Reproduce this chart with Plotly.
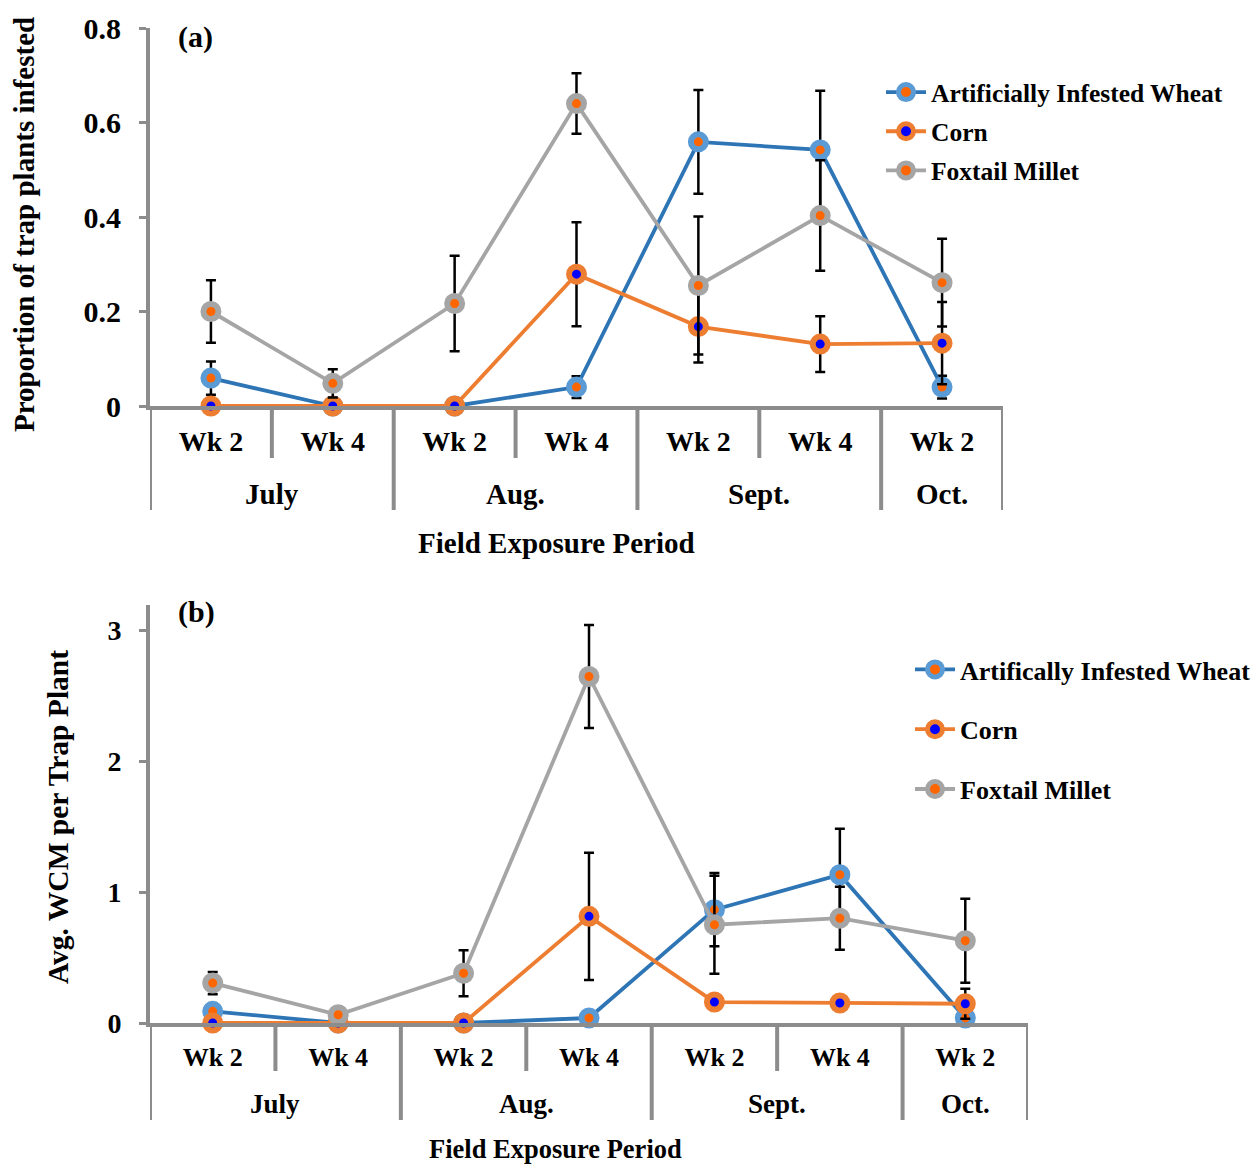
import plotly.graph_objects as go

# ---------------- data ----------------
weeks = ["Wk 2", "Wk 4", "Wk 2", "Wk 4", "Wk 2", "Wk 4", "Wk 2"]
months = ["July", "Aug.", "Sept.", "Oct."]
month_span = [(0, 1), (2, 3), (4, 5), (6, 6)]  # category index range of each month

series_names_a = ["Artificially Infested Wheat", "Corn", "Foxtail Millet"]
series_names_b = ["Artifically Infested Wheat", "Corn", "Foxtail Millet"]

# Panel (a): proportion of trap plants infested
wheat_a = [0.059, 0.0, 0.0, 0.040, 0.559, 0.542, 0.040]
wheat_a_err = [0.035, 0.0, 0.0, 0.023, 0.110, 0.125, 0.024]
corn_a = [0.0, 0.0, 0.0, 0.279, 0.168, 0.131, 0.133]
corn_a_err = [0.0, 0.0, 0.0, 0.110, 0.076, 0.059, 0.087]
millet_a = [0.200, 0.048, 0.217, 0.640, 0.255, 0.403, 0.261]
millet_a_err = [0.066, 0.030, 0.101, 0.064, 0.146, 0.117, 0.093]

# Panel (b): average WCM per trap plant
wheat_b = [0.089, 0.0, 0.0, 0.038, 0.865, 1.132, 0.038]
wheat_b_err = [0.030, 0.0, 0.0, 0.020, 0.280, 0.350, 0.020]
corn_b = [0.0, 0.0, 0.0, 0.814, 0.160, 0.153, 0.147]
corn_b_err = [0.0, 0.0, 0.0, 0.485, 0.030, 0.030, 0.115]
millet_b = [0.305, 0.063, 0.380, 2.645, 0.750, 0.800, 0.628]
millet_b_err = [0.085, 0.020, 0.175, 0.394, 0.374, 0.240, 0.320]

# ---------------- style ----------------
FONT = "Liberation Serif"
AXIS_GRAY = "#8C8C8C"
styles = [
    dict(line="#2E75B6", outer="#5B9BD5", inner="#FF6600"),
    dict(line="#ED7D31", outer="#ED7D31", inner="#0000FF"),
    dict(line="#A5A5A5", outer="#A5A5A5", inner="#FF6600"),
]

W, H = 1257, 1174
def px_x(p):
    return p / W
def px_y(p):
    return 1 - p / H

fig = go.Figure()
x = list(range(len(weeks)))

def add_series(vals, errs, name, st, xa, ya, legend, group):
    fig.add_trace(go.Scatter(
        x=x, y=vals, name=name, mode="lines+markers",
        xaxis=xa, yaxis=ya, legend=legend, legendgroup=group,
        line=dict(color=st["line"], width=3.8),
        marker=dict(size=15, color=st["inner"], line=dict(color=st["outer"], width=6)),
        error_y=dict(type="data", array=errs, visible=True, color="black", thickness=2.5, width=5),
        cliponaxis=False,
    ))

for vals, errs, nm, st, g in zip([wheat_a, corn_a, millet_a], [wheat_a_err, corn_a_err, millet_a_err],
                                 series_names_a, styles, ["a1", "a2", "a3"]):
    add_series(vals, errs, nm, st, "x", "y", "legend", g)
for vals, errs, nm, st, g in zip([wheat_b, corn_b, millet_b], [wheat_b_err, corn_b_err, millet_b_err],
                                 series_names_b, styles, ["b1", "b2", "b3"]):
    add_series(vals, errs, nm, st, "x2", "y2", "legend2", g)

# ---------------- panel geometry (pixels) ----------------
panels = [
    dict(xa="x", ya="y", left=150, right=1003, y0=406, ytop=28, short=458, long=510,
         month_y=494, title_y=543, title_x=556, ytitle_x=24, ytitle_yc=225,
         ytitle="Proportion of trap plants infested", tag="(a)", tag_y=37,
         wk=28, mo=29, xt=29, yt=29, tk=30, wk_off=7),
    dict(xa="x2", ya="y2", left=150, right=1028, y0=1023, ytop=605, short=1071, long=1120,
         month_y=1104, title_y=1149, title_x=555, ytitle_x=58, ytitle_yc=817,
         ytitle="Avg. WCM per Trap Plant", tag="(b)", tag_y=612,
         wk=26, mo=27, xt=26.5, yt=29.5, tk=28, wk_off=8),
]

annotations = []
shapes = []
for p in panels:
    xaref = p["xa"]
    month_bounds = set()
    for (i0, i1) in month_span:
        month_bounds.add(i0 - 0.5)
        month_bounds.add(i1 + 0.5)
    for b in [i - 0.5 for i in range(len(weeks) + 1)]:
        bottom = p["long"] if b in month_bounds else p["short"]
        shapes.append(dict(type="line", xref=xaref, yref="paper", x0=b, x1=b,
                           y0=px_y(p["y0"]), y1=px_y(bottom),
                           line=dict(color=AXIS_GRAY, width=4), layer="below"))
    for mname, (i0, i1) in zip(months, month_span):
        annotations.append(dict(text=mname, xref=xaref, yref="paper", x=(i0 + i1) / 2,
                                y=px_y(p["month_y"]), showarrow=False, xanchor="center", yanchor="middle",
                                font=dict(family=FONT, size=p["mo"], color="black", weight="bold")))
    annotations.append(dict(text="Field Exposure Period", xref="paper", yref="paper",
                            x=px_x(p["title_x"]), y=px_y(p["title_y"]), showarrow=False,
                            xanchor="center", yanchor="middle",
                            font=dict(family=FONT, size=p["xt"], color="black", weight="bold")))
    annotations.append(dict(text=p["ytitle"], xref="paper", yref="paper", textangle=-90,
                            x=px_x(p["ytitle_x"]), y=px_y(p["ytitle_yc"]), showarrow=False,
                            xanchor="center", yanchor="middle",
                            font=dict(family=FONT, size=p["yt"], color="black", weight="bold")))
    annotations.append(dict(text=p["tag"], xref="paper", yref="paper",
                            x=px_x(176), y=px_y(p["tag_y"]), showarrow=False,
                            xanchor="left", yanchor="middle",
                            font=dict(family=FONT, size=30, color="black", weight="bold")))

def xaxis_cfg(p, anchor):
    return dict(domain=[px_x(p["left"]), px_x(p["right"])], range=[-0.5, len(weeks) - 0.5],
                anchor=anchor, tickmode="array", tickvals=x, ticktext=weeks,
                ticks="", showline=True, linecolor=AXIS_GRAY, linewidth=4,
                showgrid=False, zeroline=False, ticklabelstandoff=p["wk_off"], automargin=False,
                tickfont=dict(family=FONT, size=p["wk"], color="black", weight="bold"),
                fixedrange=True)

def yaxis_cfg(p, anchor, rng, tv, tt):
    return dict(domain=[px_y(p["y0"]), px_y(p["ytop"])], range=rng, anchor=anchor,
                tickmode="array", tickvals=tv, ticktext=tt,
                ticks="outside", ticklen=7, tickwidth=3, tickcolor=AXIS_GRAY,
                showline=True, linecolor=AXIS_GRAY, linewidth=4,
                showgrid=False, zeroline=False, ticklabelstandoff=12, automargin=False,
                tickfont=dict(family=FONT, size=p["tk"], color="black", weight="bold"),
                fixedrange=True)

ya_ticks = [0, 0.2, 0.4, 0.6, 0.8]
ya_text = ["0", "0.2", "0.4", "0.6", "0.8"]
yb_ticks = [0, 1, 2, 3]
yb_text = ["0", "1", "2", "3"]

fig.update_layout(
    width=W, height=H, autosize=False,
    margin=dict(l=0, r=0, t=0, b=0, pad=0, autoexpand=False),
    paper_bgcolor="white", plot_bgcolor="white",
    xaxis=xaxis_cfg(panels[0], "y"),
    yaxis=yaxis_cfg(panels[0], "x", [0, 0.8], ya_ticks, ya_text),
    xaxis2=xaxis_cfg(panels[1], "y2"),
    yaxis2=yaxis_cfg(panels[1], "x2", [0, (1023 - 605) / 131.0], yb_ticks, yb_text),
    legend=dict(x=px_x(881), y=px_y(69), xanchor="left", yanchor="top",
                tracegroupgap=3, itemwidth=40, bgcolor="rgba(0,0,0,0)",
                font=dict(family=FONT, size=25.5, color="black", weight="bold")),
    legend2=dict(x=px_x(910), y=px_y(646), xanchor="left", yanchor="top",
                 tracegroupgap=23, itemwidth=40, bgcolor="rgba(0,0,0,0)",
                 font=dict(family=FONT, size=26, color="black", weight="bold")),
    annotations=annotations,
    shapes=shapes,
    showlegend=True,
)

fig.write_html("out.html")
